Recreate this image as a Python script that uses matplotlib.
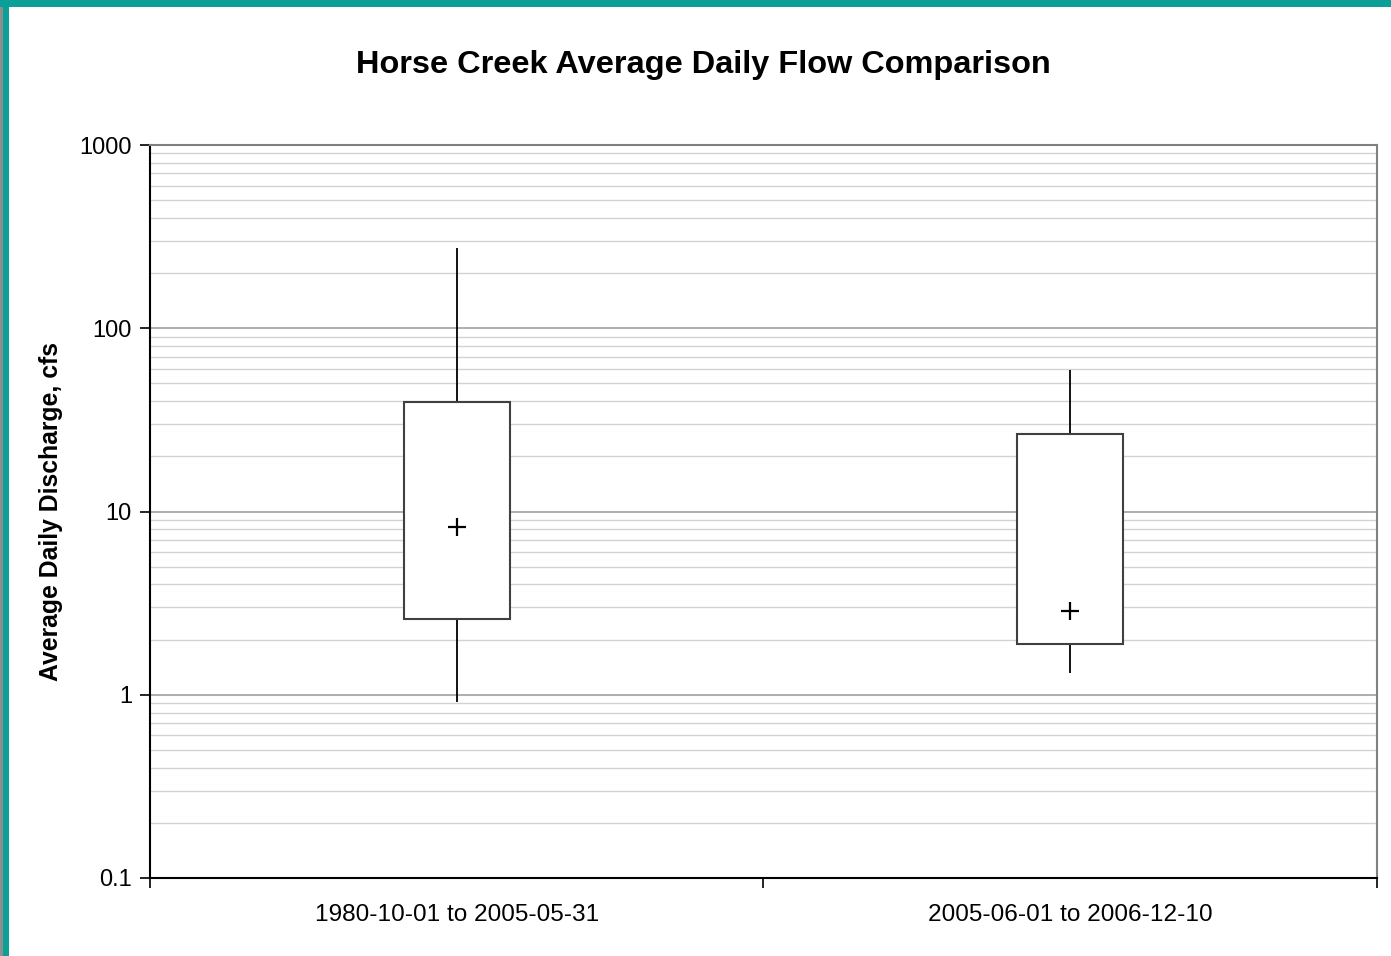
import numpy as np
import matplotlib.pyplot as plt
from matplotlib.patches import Rectangle
from matplotlib.ticker import LogLocator, NullFormatter, FixedLocator

plt.rcParams['font.family'] = ['Liberation Sans', 'DejaVu Sans']

periods = ['1980-10-01 to 2005-05-31', '2005-06-01 to 2006-12-10']
whisker_high = [274, 59]
box_top = [39.5, 26.5]
mean_flow = [8.2, 2.85]
box_bottom = [2.6, 1.9]
whisker_low = [0.91, 1.31]

fig = plt.figure(figsize=(13.91, 9.56), dpi=100)

# teal frame along top and left edges, grey strip beyond it
fig.patches.append(Rectangle((0, 0), 0.0025, 1, transform=fig.transFigure,
                             facecolor='#8a8f8c', edgecolor='none', zorder=0))
fig.patches.append(Rectangle((0.0022, 0), 0.0043, 1, transform=fig.transFigure,
                             facecolor='#0aa098', edgecolor='none', zorder=1))
fig.patches.append(Rectangle((0, 0.9925), 1, 0.0075, transform=fig.transFigure,
                             facecolor='#0aa098', edgecolor='none', zorder=1))

ax = fig.add_axes([0.1078, 0.0816, 0.8821, 0.7667])
ax.set_yscale('log')
ax.set_ylim(0.1, 1000)
ax.set_xlim(-0.5, 1.5)

x = np.arange(len(periods))
width = 0.173

ax.vlines(x, box_top, whisker_high, color='black', lw=1.3, zorder=3)
ax.vlines(x, whisker_low, box_bottom, color='black', lw=1.3, zorder=3)
ax.bar(x, np.array(box_top) - np.array(box_bottom), bottom=box_bottom, width=width,
       facecolor='white', edgecolor='#404040', lw=1.5, zorder=4)
ax.plot(x, mean_flow, '+', color='black', ms=13, mew=1.6, zorder=5)

# gridlines
ax.yaxis.set_minor_locator(LogLocator(base=10, subs=np.arange(2, 10), numticks=20))
ax.yaxis.set_minor_formatter(NullFormatter())
ax.set_yticks([0.1, 1, 10, 100, 1000])
ax.set_yticklabels(['0.1', '1', '10', '100', '1000'])
ax.grid(True, which='major', axis='y', color='#a0a0a0', lw=1.2, zorder=1)
ax.grid(True, which='minor', axis='y', color='#d2d2d2', lw=1.0, zorder=1)
ax.tick_params(axis='y', which='minor', length=0)
ax.tick_params(axis='y', which='major', direction='out', length=7, width=1.2,
               labelsize=17, pad=6)

# category ticks at boundaries, labels at centres
ax.xaxis.set_major_locator(FixedLocator([-0.5, 0.5, 1.5]))
ax.set_xticklabels([])
ax.set_xticks(x, minor=True)
ax.set_xticklabels(periods, minor=True, fontsize=17.6)
ax.tick_params(axis='x', which='major', direction='out', length=7, width=1.2)
ax.tick_params(axis='x', which='minor', length=0, pad=18.5)

ax.spines['left'].set_color('black')
ax.spines['bottom'].set_color('black')
ax.spines['left'].set_linewidth(1.5)
ax.spines['bottom'].set_linewidth(1.5)
ax.spines['top'].set_color('#808080')
ax.spines['right'].set_color('#808080')
ax.spines['top'].set_linewidth(1.5)
ax.spines['right'].set_linewidth(1.5)

ax.set_ylabel('Average Daily Discharge, cfs', fontsize=17.8, fontweight='bold', labelpad=12)
fig.text(0.506, 0.9325, 'Horse Creek Average Daily Flow Comparison', ha='center', va='center',
         fontsize=23.4, fontweight='bold')

fig.savefig('out.png', dpi=100)
